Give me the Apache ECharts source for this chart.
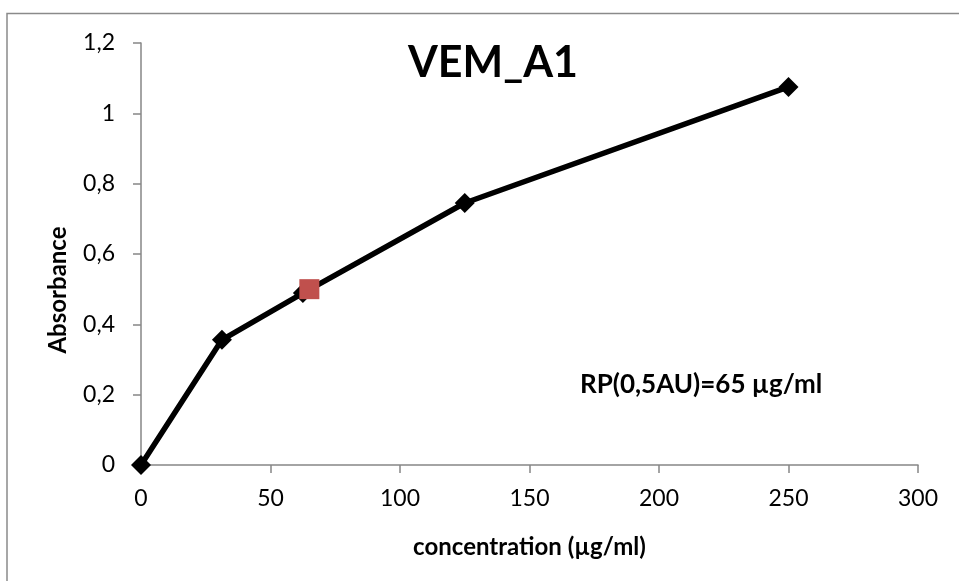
<!DOCTYPE html>
<html><head><meta charset="utf-8">
<script src="https://cdn.jsdelivr.net/npm/echarts@6/dist/echarts.min.js"></script>
<style>html,body{margin:0;padding:0;background:#fff}#c{width:959px;height:581px}</style>
</head><body><div id="c"></div>
<script>
const concentrations = [0, 31.25, 62.5, 125, 250];
const absorbance = [0, 0.356, 0.489, 0.745, 1.075];
const rpPoint = [65, 0.5];
const titleText = 'VEM_A1';
const annotation = 'RP(0,5AU)=65 µg/ml';
const xName = 'concentration (µg/ml)';
const yName = 'Absorbance';

const chart = echarts.init(document.getElementById('c'));
const F = 'Lato, "Open Sans", sans-serif';
const axisColor = '#868686';
chart.setOption({
  animation: false,
  graphic: [
    {type:'rect', shape:{x:7,y:13.5,width:1000,height:600}, style:{fill:'none', stroke:'#8a8a8a', lineWidth:1.5}, silent:true},
    {type:'text', x:580, y:385, style:{text:annotation, font:'bold 26px ' + F, fill:'#000', textAlign:'left', textVerticalAlign:'middle'}},
    {type:'text', x:58, y:290, rotation:Math.PI/2, style:{text:yName, font:'bold 24px ' + F, fill:'#000', textAlign:'center', textVerticalAlign:'middle'}}
  ],
  title: {text: titleText, left: 488, top: 37, textAlign:'center',
    textStyle:{fontFamily:F, fontWeight:'bold', fontSize:43, color:'#000'}},
  grid: {left:141, right:41, top:43, bottom:116, containLabel:false},
  xAxis: {type:'value', min:0, max:300, interval:50,
    name:xName, nameLocation:'middle', nameGap:70,
    nameTextStyle:{fontFamily:F, fontWeight:'bold', fontSize:24, color:'#000'},
    axisLine:{lineStyle:{color:axisColor, width:1.5}},
    axisTick:{show:true, length:8, lineStyle:{color:axisColor, width:1.5}},
    axisLabel:{fontFamily:F, fontSize:23, color:'#000', margin:22},
    splitLine:{show:false}},
  yAxis: {type:'value', min:0, max:1.2, interval:0.2,
    axisLine:{show:true, lineStyle:{color:axisColor, width:1.5}},
    axisTick:{show:true, length:8, lineStyle:{color:axisColor, width:1.5}},
    axisLabel:{fontFamily:F, fontSize:23, color:'#000', margin:26,
      formatter: v => (Math.round(v*10)/10).toString().replace('.', ',')},
    splitLine:{show:false}},
  series: [
    {type:'line', data: concentrations.map((x,i)=>[x, absorbance[i]]),
     lineStyle:{color:'#000', width:5.5}, itemStyle:{color:'#000'},
     symbol:'diamond', symbolSize:20, showSymbol:true, z:2},
    {type:'scatter', data:[rpPoint], symbol:'rect', symbolSize:20,
     itemStyle:{color:'#C0504D', opacity:1}, z:3}
  ]
});
</script></body></html>
